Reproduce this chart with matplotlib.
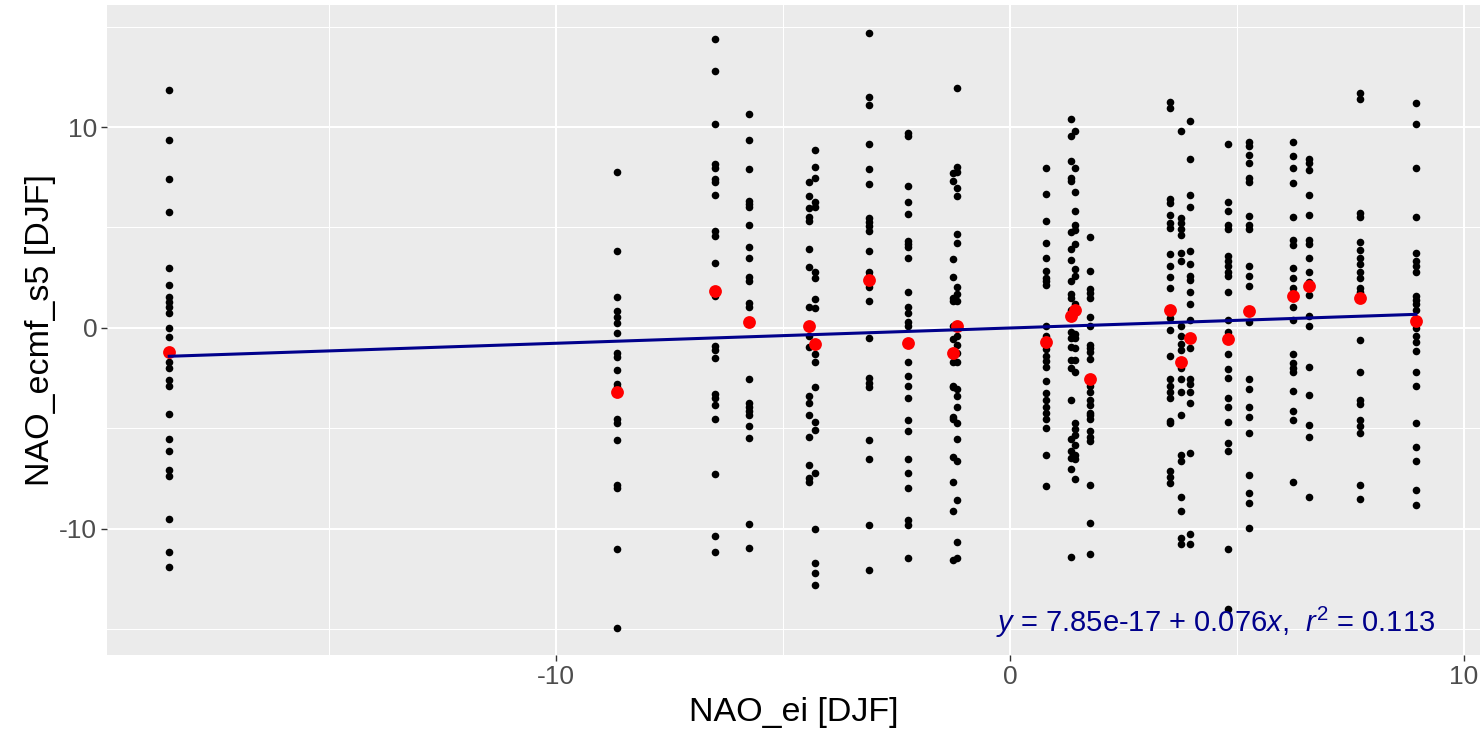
import matplotlib
matplotlib.use('Agg')
import matplotlib.pyplot as plt
import numpy as np
import pandas as pd

plt.rcParams['font.family'] = ['Liberation Sans', 'DejaVu Sans']
plt.rcParams['mathtext.fontset'] = 'custom'
plt.rcParams['mathtext.rm'] = 'Liberation Sans'
plt.rcParams['mathtext.it'] = 'Liberation Sans:italic'
plt.rcParams['axes.unicode_minus'] = False

############################################################################################################
# observed NAO (x) for each winter, and the ensemble mean (red dots) read off the plot
nao_ei = [-18.52, -8.65, -6.50, -5.74, -4.42, -4.30, -3.11, -2.25, -1.26, -1.17,
          0.79, 1.34, 1.44, 1.76, 3.52, 3.76, 3.96, 4.79, 5.26, 6.24, 6.58, 7.71, 8.94]
ens_mean = [-1.19, -3.16, 1.82, 0.30, 0.10, -0.79, 2.37, -0.75, -1.25, 0.10,
            -0.69, 0.59, 0.89, -2.53, 0.89, -1.68, -0.49, -0.55, 0.83, 1.58, 2.07, 1.49, 0.36]

# ensemble members (black dots), one list per winter
col01 = [11.84, 9.33, 7.41, 5.79, 2.96, 2.13, 1.52, 1.28, 1.03, 0.77, -0.02, -0.45, -1.19, -1.70, -1.98,
         -2.61, -2.89, -4.27, -5.53, -6.13, -7.06, -7.37, -9.49, -11.13, -11.88]
col02 = [7.77, 3.85, 1.54, 0.85, 0.55, 0.24, -0.26, -1.25, -1.42, -2.11, -2.77, -2.96, -3.16, -4.55, -4.74,
         -5.59, -7.81, -7.95, -11.0, -14.92]
col03 = [14.39, 12.81, 10.16, 8.18, 7.94, 7.41, 7.27, 6.64, 4.84, 4.58, 3.24, 1.78, 1.58, -0.91, -1.11,
         -1.48, -3.28, -3.48, -3.81, -4.53, -7.25, -10.36, -11.17]
col04 = [10.65, 9.37, 7.91, 6.32, 6.17, 6.01, 5.10, 4.03, 3.50, 2.53, 2.33, 1.25, 1.05, -2.53, -3.72,
         -3.91, -4.11, -4.35, -4.86, -5.49, -9.74, -10.95]
col05 = [7.27, 6.58, 5.97, 5.53, 5.34, 3.95, 3.02, 1.05, 0.10, -0.40, -0.95, -3.36, -3.72, -4.35, -5.43,
         -6.82, -7.47, -7.67]
col06 = [8.87, 8.02, 7.47, 6.28, 6.03, 2.77, 2.47, 1.42, 0.99, -1.28, -1.70, -2.96, -4.70, -5.10, -7.21,
         -10.0, -11.70, -12.21, -12.79]
col07 = [14.68, 11.50, 11.11, 9.13, 7.91, 7.15, 5.47, 5.28, 5.08, 4.84, 3.83, 2.77, 2.57, 2.02, 1.34,
         -0.49, -2.49, -2.73, -2.92, -5.59, -6.54, -9.82, -12.06]
col08 = [9.72, 9.57, 7.06, 6.26, 5.65, 4.35, 4.19, 4.05, 3.50, 1.78, 1.05, 0.73, 0.30, 0.10, -1.68,
         -2.41, -2.91, -3.46, -4.60, -5.14, -6.52, -7.21, -7.94, -9.55, -9.78, -11.42]
col09 = [7.71, 7.31, 3.44, 2.55, 1.48, 1.34, 0.10, -0.55, -1.15, -1.70, -2.87, -2.96, -4.45, -4.51, -6.42,
         -7.67, -9.09, -11.56]
col10 = [11.92, 8.00, 7.75, 6.96, 6.58, 4.68, 4.21, 2.02, 1.68, 1.34, -0.40, -0.83, -1.25, -1.70, -3.06,
         -3.36, -3.95, -4.74, -5.53, -6.62, -8.54, -10.63, -11.42]
col11 = [7.98, 6.66, 5.34, 4.25, 3.50, 2.85, 2.47, 2.33, 2.13, 0.08, -0.40, -0.69, -1.05, -1.38, -1.62,
         -1.92, -2.63, -3.22, -3.56, -3.91, -4.25, -4.55, -5.00, -6.32, -7.85]
col12 = [10.38, 9.57, 8.30, 7.47, 7.31, 4.78, 3.95, 3.40, 2.33, 1.68, 1.48, 0.89, -0.20, -0.49, -0.95,
         -1.58, -1.98, -3.56, -5.53, -6.13, -6.48, -7.02, -11.40]
col13 = [9.78, 7.94, 6.76, 5.83, 5.10, 4.88, 4.19, 2.92, 2.57, 1.19, -0.30, -0.49, -0.99, -1.58, -2.17,
         -4.74, -5.04, -5.34, -5.83, -6.32, -6.52, -7.51]
col14 = [4.55, 2.83, 1.94, 1.74, 1.48, 0.55, 0.10, -0.83, -0.99, -1.19, -1.54, -2.53, -2.87, -3.16, -3.56,
         -3.85, -4.25, -4.35, -4.55, -5.14, -5.43, -5.63, -7.81, -9.68, -11.26]
col15 = [11.26, 10.97, 6.42, 6.23, 5.63, 5.24, 4.98, 3.66, 3.06, 2.53, 1.98, 0.49, -0.10, -1.38, -2.53,
         -2.87, -3.16, -3.46, -4.64, -4.74, -7.11, -7.41, -7.71]
col16 = [9.78, 5.47, 5.24, 4.94, 4.64, 3.75, 3.32, 0.10, -0.40, -0.79, -1.09, -1.98, -2.53, -3.16, -4.35,
         -6.32, -6.62, -8.40, -9.09, -10.47, -10.77]
col17 = [10.28, 8.40, 6.62, 6.03, 3.85, 3.16, 2.57, 2.37, 1.78, 1.19, 0.40, -0.99, -2.53, -2.77, -3.16,
         -3.72, -6.23, -10.24, -10.77]
col18 = [9.13, 6.28, 5.83, 5.14, 4.94, 3.56, 3.32, 3.06, 2.81, 2.57, 1.78, 0.40, -0.20, -0.55, -1.28,
         -2.02, -2.47, -3.46, -3.95, -4.70, -5.73, -6.13, -11.0, -14.0]
col19 = [9.25, 9.05, 8.60, 8.20, 7.47, 7.27, 5.57, 5.10, 4.94, 3.06, 2.57, 2.07, 0.30, -2.53, -3.06,
         -3.95, -4.45, -5.20, -7.31, -8.20, -8.70, -9.94]
col20 = [9.23, 8.54, 7.94, 7.21, 5.53, 4.39, 4.11, 3.00, 2.47, 1.98, 1.74, 1.48, 1.05, 0.40, -1.28,
         -1.74, -1.98, -2.21, -3.12, -4.15, -4.58, -7.67]
col21 = [8.40, 8.20, 7.85, 6.62, 5.63, 4.39, 4.19, 3.46, 2.77, 2.27, 2.07, 1.62, 0.59, 0.10, -1.92,
         -3.32, -4.84, -5.43, -8.40]
col22 = [11.7, 11.4, 5.7, 5.5, 4.3, 3.9, 3.5, 3.2, 2.8, 2.5, 2.0, 1.8, 1.5, -0.6, -2.2,
         -3.6, -3.8, -4.6, -4.9, -5.2, -7.8, -8.5]
col23 = [11.17, 10.16, 7.94, 5.53, 3.72, 3.32, 3.06, 2.77, 1.58, 1.38, 1.19, 0.89, 0.0, -0.40, -0.69,
         -1.15, -2.17, -2.87, -4.74, -5.93, -6.62, -8.06, -8.79]

members = [col01, col02, col03, col04, col05, col06, col07, col08, col09, col10, col11, col12,
           col13, col14, col15, col16, col17, col18, col19, col20, col21, col22, col23]

# regression as printed on the plot
fit_a = 7.85e-17
fit_b = 0.076
eq_label = r'$y$ = 7.85e-17 + 0.076$x$,  $r^2$ = 0.113'

#----------------------------------------------------------------------------------------------
df = pd.DataFrame({'x': np.repeat(nao_ei, [len(m) for m in members]),
                   'y': np.concatenate(members)})

fig = plt.figure(figsize=(14.81, 7.31), dpi=100)
ax = fig.add_axes([107/1481., 1 - 655/731., (1480 - 107)/1481., 650/731.])
ax.set_facecolor('#EBEBEB')
for s in ax.spines.values():
    s.set_visible(False)

ax.set_xlim(-19.89, 10.35)
ax.set_ylim(-16.27, 16.07)
ax.set_xticks([-10, 0, 10])
ax.set_yticks([-10, 0, 10])
ax.set_xticks([-15, -5, 5], minor=True)
ax.set_yticks([-15, -5, 5, 15], minor=True)
ax.grid(which='major', color='white', lw=1.5)
ax.grid(which='minor', color='white', lw=0.75)
ax.set_axisbelow(True)
ax.tick_params(which='minor', length=0)
ax.tick_params(which='major', length=4, width=1, color='#333333', labelsize=19,
               labelcolor='#4D4D4D', pad=3)

ax.scatter(df['x'], df['y'], s=30, c='black', lw=0, zorder=3)
ax.scatter(nao_ei, ens_mean, s=85, c='red', lw=0, zorder=4)
xl = np.array([min(nao_ei), max(nao_ei)])
ax.plot(xl, fit_a + fit_b*xl, color='#00008B', lw=2.2, zorder=5)

ax.text(9.36, -15.12, eq_label, ha='right', va='baseline', fontsize=21, color='#00008B', zorder=6)

ax.set_xlabel('NAO_ei [DJF]', fontsize=24.5, labelpad=6)
ax.set_ylabel('NAO_ecmf_s5 [DJF]', fontsize=24.5, labelpad=2)

fig.savefig('out.png')
